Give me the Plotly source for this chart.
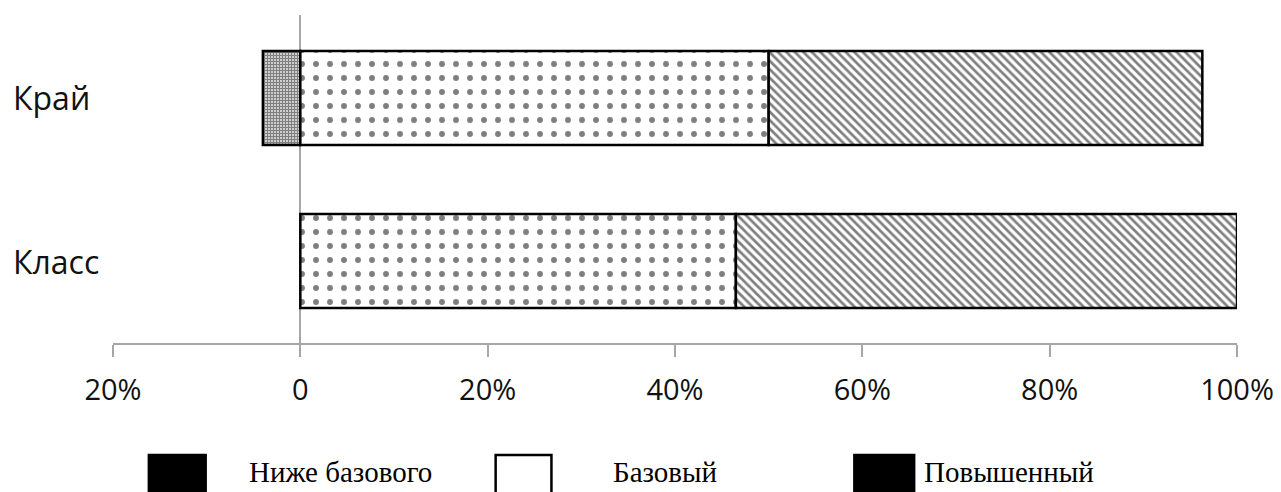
import plotly.graph_objects as go

categories = ["Класс", "Край"]
below_basic = [None, 4.0]
basic = [46.5, 50.0]
advanced = [53.5, 46.3]

tick_vals = [-20, 0, 20, 40, 60, 80, 100]
tick_text = ["20%", "0", "20%", "40%", "60%", "80%", "100%"]

legend_names = ["Ниже базового", "Базовый", "Повышенный"]

# page body offset (default 8px margin in the html page)
OFF = 8
W, H = 1281 - OFF, 492 - OFF
L, T = 113 - OFF, 15 - OFF
R = W - (1241 - OFF)
B = H - (343 - OFF)
pw, ph = W - L - R, H - T - B


def px(x):
    return (x - OFF - L) / pw


def py(y):
    return (H - B - (y - OFF)) / ph


fig = go.Figure()
line = dict(color="black", width=2.5)
fig.add_trace(go.Bar(
    y=categories, x=[(-v if v is not None else None) for v in below_basic],
    orientation="h", name=legend_names[0], width=0.577,
    marker=dict(color="white", line=line,
                pattern=dict(shape="+", size=3, solidity=0.7, fgcolor="black", bgcolor="white")),
))
fig.add_trace(go.Bar(
    y=categories, x=basic, orientation="h", name=legend_names[1], width=0.577,
    marker=dict(color="white", line=line,
                pattern=dict(shape=".", size=14, solidity=0.14, fgcolor="black", bgcolor="white")),
))
fig.add_trace(go.Bar(
    y=categories, x=advanced, orientation="h", name=legend_names[2], width=0.577,
    marker=dict(color="white", line=line,
                pattern=dict(shape="\\", size=6, solidity=0.45, fgcolor="black", bgcolor="white")),
))

fig.update_layout(
    width=W, height=H, barmode="relative", showlegend=False,
    margin=dict(l=L, r=R, t=T, b=B),
    plot_bgcolor="white", paper_bgcolor="white",
    xaxis=dict(range=[-20, 100], tickvals=tick_vals, ticktext=tick_text,
               showgrid=False, zeroline=True, zerolinecolor="#a6a6a6", zerolinewidth=1.5,
               showline=True, linecolor="#a6a6a6", linewidth=1.5,
               ticks="outside", ticklen=12, tickcolor="#a6a6a6", tickwidth=1.5,
               tickfont=dict(family="Open Sans", size=29, color="#111111"),
               ticklabelstandoff=8),
    yaxis=dict(range=[-0.503, 1.509], showticklabels=False, showgrid=False,
               zeroline=False, showline=False, ticks=""),
)

for c in categories:
    fig.add_annotation(x=px(11), xref="paper", xanchor="left", y=c, yref="y",
                       text=c, showarrow=False,
                       font=dict(family="Open Sans", size=32, color="#111111"))

boxes = [(149, 206, "black"), (497, 553, "white"), (857, 917, "black")]
text_x = [247, 613, 925]
for (x0, x1, fill), tx, name in zip(boxes, text_x, legend_names):
    fig.add_shape(type="rect", xref="paper", yref="paper",
                  x0=px(x0), x1=px(x1), y0=py(500), y1=py(455),
                  fillcolor=fill, line=dict(color="black", width=2.5))
    fig.add_annotation(x=px(tx), xref="paper", xanchor="left", y=py(472), yref="paper",
                       yanchor="middle", text=name, showarrow=False,
                       font=dict(family="Liberation Serif", size=29, color="black"))

fig.write_html("out.html")
